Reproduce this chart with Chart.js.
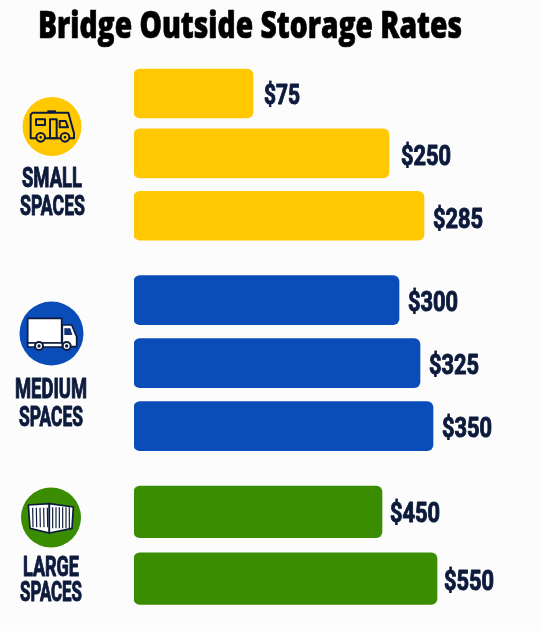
<!DOCTYPE html>
<html><head><meta charset="utf-8">
<style>html,body{margin:0;padding:0;background:#fdfcfd}canvas{display:block}</style>
<script src="https://cdn.jsdelivr.net/npm/chart.js@4"></script></head>
<body><canvas id="c" width="540" height="631"></canvas>
<script>
// Data (drawn bar lengths are not proportional to the printed prices)
const titleText = 'Bridge Outside Storage Rates';
const groupNames = ['Small Spaces', 'Medium Spaces', 'Large Spaces'];
const smallLengths = [119, 255, 290];
const mediumLengths = [265, 286, 299];
const largeLengths = [248, 303];
const smallRows = [1, 1.95, 2.94];
const mediumRows = [4.28, 5.28, 6.28];
const largeRows = [7.64, 8.70];
const smallPrices = ['$75', '$250', '$285'];
const mediumPrices = ['$300', '$325', '$350'];
const largePrices = ['$450', '$550'];

const NAVY = '#0c1a3c';
const zip = (l, r) => l.map((v, i) => ({ x: v, y: r[i] }));
const FONT = '"Roboto","Liberation Sans",sans-serif';
const TITLE_FONT = '"Open Sans","Liberation Sans",sans-serif';
const labelGap = [[11, 12, 9], [9, 9, 9], [8, 7]];
const labelDrop = [[11, 11.5, 12.5], [11, 10.5, 11], [10.5, 11]];

function fitText(ctx, s, left, right, base, size, color, sw, font) {
  ctx.save();
  ctx.font = font || ('bold ' + size + 'px ' + FONT);
  ctx.textAlign = 'left'; ctx.textBaseline = 'alphabetic';
  const w = ctx.measureText(s).width;
  ctx.translate(left, base);
  ctx.scale((right - left) / w, 1);
  ctx.fillStyle = color; ctx.strokeStyle = color; ctx.lineWidth = sw; ctx.lineJoin = 'round';
  ctx.strokeText(s, 0, 0);
  ctx.fillText(s, 0, 0);
  ctx.restore();
}
function poly(ctx, pts) { ctx.beginPath(); pts.forEach((p, i) => i ? ctx.lineTo(p[0], p[1]) : ctx.moveTo(p[0], p[1])); ctx.closePath(); }
function wheel(ctx, x, y, r, fill) {
  ctx.beginPath(); ctx.arc(x, y, r, 0, 7); ctx.fillStyle = fill; ctx.fill(); ctx.stroke();
}

function rvIcon(ctx) {
  ctx.save(); ctx.translate(0, 80); ctx.scale(1 / 3, 1 / 3);
  ctx.strokeStyle = NAVY; ctx.lineWidth = 6; ctx.lineJoin = 'round';
  poly(ctx, [[98, 98], [205, 98], [222, 160], [222, 175], [92, 175], [92, 104]]); ctx.stroke();
  ctx.fillStyle = NAVY; ctx.fillRect(142, 91, 26, 7);
  ctx.strokeRect(108, 118, 27, 17);
  ctx.strokeRect(150, 118, 20, 57);
  poly(ctx, [[179, 123], [197, 123], [204, 142], [179, 142]]); ctx.stroke();
  wheel(ctx, 122, 172, 13, '#ffc800'); wheel(ctx, 195, 172, 13, '#ffc800');
  ctx.fillStyle = NAVY;
  ctx.beginPath(); ctx.arc(122, 172, 4, 0, 7); ctx.arc(195, 172, 4, 0, 7); ctx.fill();
  ctx.restore();
}
function truckIcon(ctx) {
  ctx.save(); ctx.translate(0, 290); ctx.scale(1 / 3, 1 / 3);
  ctx.strokeStyle = NAVY; ctx.lineWidth = 5; ctx.lineJoin = 'round'; ctx.fillStyle = '#fff';
  ctx.fillRect(83, 85, 102, 74); ctx.strokeRect(83, 85, 102, 74);
  poly(ctx, [[187, 105], [215, 105], [230, 140], [230, 170], [187, 170]]); ctx.fill(); ctx.stroke();
  ctx.fillStyle = '#12327a'; poly(ctx, [[193, 115], [211, 115], [217, 135], [193, 135]]); ctx.fill();
  ctx.fillStyle = '#fff'; poly(ctx, [[83, 159], [187, 159], [187, 171], [83, 171]]); ctx.fill(); ctx.stroke();
  ctx.lineWidth = 6;
  wheel(ctx, 117, 168, 12, '#fff'); wheel(ctx, 200, 168, 12, '#fff');
  ctx.fillStyle = NAVY;
  ctx.beginPath(); ctx.arc(117, 168, 5, 0, 7); ctx.arc(200, 168, 5, 0, 7); ctx.fill();
  ctx.restore();
}
function containerIcon(ctx) {
  ctx.save(); ctx.translate(0, 475); ctx.scale(1 / 3, 1 / 3);
  ctx.strokeStyle = NAVY; ctx.lineWidth = 5; ctx.lineJoin = 'round'; ctx.fillStyle = '#fff';
  poly(ctx, [[85, 90], [148, 86], [148, 174], [90, 160]]); ctx.fill(); ctx.stroke();
  poly(ctx, [[148, 86], [220, 96], [216, 160], [148, 174]]); ctx.fill(); ctx.stroke();
  ctx.lineWidth = 3.5;
  for (let x = 98; x < 145; x += 11) { ctx.beginPath(); ctx.moveTo(x, 98); ctx.lineTo(x + 1, 157); ctx.stroke(); }
  for (let x = 158; x < 214; x += 10) { ctx.beginPath(); ctx.moveTo(x, 97); ctx.lineTo(x, 160); ctx.stroke(); }
  ctx.restore();
}

const allPrices = [smallPrices, mediumPrices, largePrices];
const sidePlugin = {
  id: 'side',
  beforeDraw(chart) {
    const ctx = chart.ctx;
    ctx.save(); ctx.fillStyle = '#fdfcfd'; ctx.fillRect(0, 0, chart.width, chart.height); ctx.restore();
  },
  afterDatasetsDraw(chart) {
    const ctx = chart.ctx;
    fitText(ctx, titleText, 38, 462, 38, 37, '#000', 0.7, '800 37px ' + TITLE_FONT);
    // price labels anchored on the bar ends
    chart.data.datasets.forEach((ds, di) => {
      chart.getDatasetMeta(di).data.forEach((bar, i) => {
        const s = allPrices[di][i];
        const w = s.length === 3 ? 36 : 50;
        const left = bar.x + labelGap[di][i];
        fitText(ctx, s, left, left + w, bar.y + labelDrop[di][i], 27, NAVY, 1);
      });
    });
    // group badges
    const disc = (x, y, r, c) => { ctx.beginPath(); ctx.arc(x, y, r, 0, 7); ctx.fillStyle = c; ctx.fill(); };
    disc(52, 126.5, 29.5, '#ffc800'); rvIcon(ctx);
    disc(51.5, 333.5, 32, '#0a4db8'); truckIcon(ctx);
    disc(51, 517.5, 30, '#3a8c00'); containerIcon(ctx);
    fitText(ctx, 'SMALL', 22, 82, 187, 27, NAVY, 1);
    fitText(ctx, 'SPACES', 20, 85, 215, 27, NAVY, 1);
    fitText(ctx, 'MEDIUM', 15, 87, 398, 27, NAVY, 1);
    fitText(ctx, 'SPACES', 19, 83, 426, 27, NAVY, 1);
    fitText(ctx, 'LARGE', 23, 79, 576, 27, NAVY, 1);
    fitText(ctx, 'SPACES', 20, 82, 601, 27, NAVY, 1);
  }
};

new Chart(document.getElementById('c'), {
  type: 'bar',
  data: {
    datasets: [
      { label: groupNames[0], data: zip(smallLengths, smallRows), backgroundColor: '#ffc800', barThickness: 49 },
      { label: groupNames[1], data: zip(mediumLengths, mediumRows), backgroundColor: '#0a4db8', barThickness: 49 },
      { label: groupNames[2], data: zip(largeLengths, largeRows), backgroundColor: '#3a8c00', barThickness: 51.5 }
    ]
  },
  options: {
    indexAxis: 'y',
    responsive: false,
    animation: false,
    layout: { padding: { left: 134, right: 0, top: 0, bottom: 0 } },
    elements: { bar: { borderRadius: 6, borderSkipped: false, borderWidth: 0 } },
    datasets: { bar: { grouped: false } },
    plugins: { legend: { display: false }, title: { display: false }, tooltip: { enabled: false } },
    scales: {
      x: { type: 'linear', min: 0, max: 406, display: false },
      y: { type: 'linear', reverse: true, offset: false, min: -0.484, max: 9.532, display: false }
    }
  },
  plugins: [sidePlugin]
});
</script></body></html>
